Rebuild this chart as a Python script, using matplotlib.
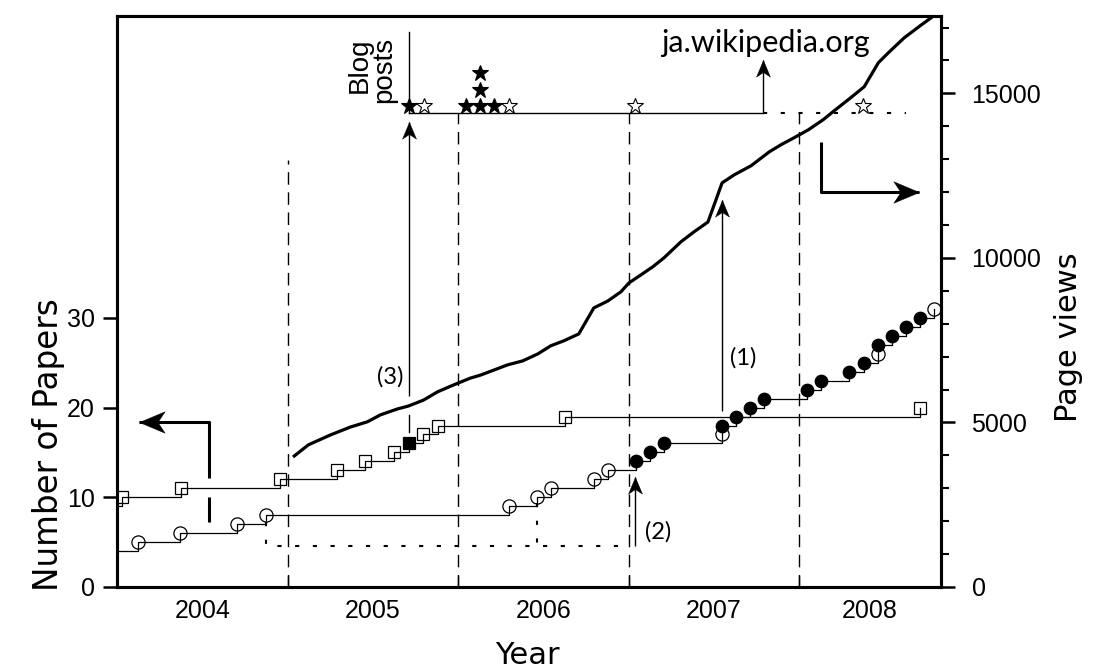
import numpy as np
import matplotlib.pyplot as plt

# x values are decimal years (2004.0 = 1 Jan 2004)
x_lo, x_hi = 2004.0, 2008.83
year_bounds = [2005, 2006, 2007, 2008]
year_labels = ['2004', '2005', '2006', '2007', '2008']

# papers shown as squares (step curve, upper)
sq_x = [2004.03, 2004.376, 2004.957, 2005.292, 2005.456, 2005.621, 2005.709,
        2005.791, 2005.879, 2006.625, 2008.709]
sq_n = [10, 11, 12, 13, 14, 15, 16, 17, 18, 19, 20]
sq_filled = [0, 0, 0, 0, 0, 0, 1, 0, 0, 0, 0]

# papers shown as circles (step curve, lower)
ci_x = [2004.123, 2004.370, 2004.705, 2004.875, 2006.296, 2006.460, 2006.543,
        2006.795, 2006.877, 2007.042, 2007.124, 2007.206, 2007.544, 2007.544,
        2007.629, 2007.711, 2007.793, 2008.046, 2008.128, 2008.292, 2008.380,
        2008.463, 2008.463, 2008.545, 2008.627, 2008.709, 2008.792]
ci_n = list(range(5, 32))
ci_filled = [0, 0, 0, 0, 0, 0, 0, 0, 0, 1, 1, 1, 0, 1, 1, 1, 1, 1, 1, 1, 1,
             0, 1, 1, 1, 1, 0]

# page views (right axis)
pv_x = [2005.039, 2005.122, 2005.251, 2005.368, 2005.468, 2005.544, 2005.644,
        2005.709, 2005.797, 2005.879, 2005.973, 2006.073, 2006.132, 2006.290,
        2006.378, 2006.466, 2006.543, 2006.619, 2006.707, 2006.795, 2006.877,
        2006.954, 2007.001, 2007.053, 2007.141, 2007.206, 2007.306, 2007.382,
        2007.464, 2007.547, 2007.617, 2007.717, 2007.823, 2007.893, 2007.969,
        2008.052, 2008.140, 2008.204, 2008.292, 2008.380, 2008.463, 2008.521,
        2008.615, 2008.715, 2008.80]
pv = [3980, 4320, 4620, 4860, 5020, 5230, 5410, 5500, 5680, 5930, 6140, 6350,
      6440, 6750, 6870, 7080, 7330, 7480, 7690, 8480, 8690, 8970, 9240, 9420,
      9730, 10000, 10490, 10790, 11090, 12280, 12520, 12800, 13220, 13440,
      13650, 13890, 14200, 14470, 14830, 15200, 15930, 16230, 16690, 17080,
      17400]

# blog posts (stars)
blog_x = [2005.709, 2005.797, 2006.043, 2006.126, 2006.208, 2006.296,
          2007.036, 2008.375]
blog_count = [1, 1, 1, 3, 1, 1, 1, 1]
blog_filled = [1, 0, 1, 1, 1, 0, 0, 0]

LEFT_TOP = 63.65
RIGHT_TOP = 17350
blog_y = 52.85
DOTS = (0, (2.0, 6.5))
NOTE_FONT = dict(family='Lato', fontsize=17)


def head_verts(direction):
    # stealth arrow head, tip at the origin, pointing +x
    v = np.array([(0, 0), (-1, -0.42), (-0.72, 0), (-1, 0.42), (0, 0)])
    if direction == 'left':
        v[:, 0] = -v[:, 0]
    elif direction == 'up':
        v = v[:, ::-1]
    return [tuple(p) for p in v]


def arrow(ax, xs, ys, direction, lw=1.0, ms=24):
    ax.plot(xs, ys, color='k', lw=lw, solid_capstyle='butt')
    ax.plot([xs[-1]], [ys[-1]], marker=head_verts(direction), ms=ms,
            color='k', mec='k', mew=0.3, ls='none')


fig = plt.figure(figsize=(10.96, 6.68), dpi=100)
ax = fig.add_axes([0.10675, 0.12126, 0.7518, 0.8548])
ax2 = ax.twinx()

# year separators
dash_top = [47.6, blog_y, blog_y, blog_y]
for xb, top in zip(year_bounds, dash_top):
    ax.plot([xb, xb], [0, top], color='k', lw=1.0, ls=(0, (9, 5.5)))

# step curves
ax.plot([x_lo - 0.05] + sq_x, [9] + sq_n, drawstyle='steps-post', color='k', lw=0.9)
ax.plot([x_lo - 0.05] + ci_x, [4] + ci_n, drawstyle='steps-post', color='k', lw=0.9)

for x, n, f in zip(sq_x, sq_n, sq_filled):
    ax.plot(x, n, marker='s', ms=9 if f else 8, mec='k', mew=0.9,
            mfc='k' if f else 'none', zorder=4)
for x, n, f in zip(ci_x, ci_n, ci_filled):
    ax.plot(x, n, marker='o', ms=9.5 if not f else 9, mec='k', mew=0.9,
            mfc='k' if f else 'none', zorder=4)

# dotted bracket for (2)
ax.plot([2004.875, 2004.875, 2006.995], [7.25, 4.57, 4.57], color='k', lw=1.5,
        ls=DOTS)
ax.plot([2006.460, 2006.460], [9.35, 4.57], color='k', lw=1.5, ls=DOTS)

# blog post track
ax.plot([2005.709, 2007.787], [blog_y, blog_y], color='k', lw=1.0)
ax.plot([2007.787, 2008.627], [blog_y, blog_y], color='k', lw=1.5, ls=DOTS)
ax.plot([2005.709, 2005.709], [blog_y, 61.9], color='k', lw=1.0)
for x, c, f in zip(blog_x, blog_count, blog_filled):
    for k in range(c):
        ax.plot(x, 53.6 + 1.85 * k, marker='*', ms=12, mec='k', mew=0.8,
                mfc='k' if f else 'white', zorder=5)
ax.text(2005.644, 61.3, 'Blog\nposts', rotation=90, ha='right', va='top',
        multialignment='right', fontsize=20, family='Liberation Sans',
        linespacing=0.95)

# ja.wikipedia.org arrow
arrow(ax, [2007.787, 2007.787], [blog_y, 58.75], 'up')
ax.text(2007.80, 60.65, 'ja.wikipedia.org', ha='center', va='center',
        family='Lato', fontsize=22)

# arrow (3)
ax.plot([2005.709, 2005.709], [17.3, 19.2], color='k', lw=1.0)
arrow(ax, [2005.709, 2005.709], [21.3, 51.84], 'up')
ax.text(2005.603, 23.4, '(3)', ha='center', va='center', **NOTE_FONT)

# arrow (1)
arrow(ax, [2007.544, 2007.544], [19.6, 43.1], 'up')
ax.text(2007.67, 25.6, '(1)', ha='center', va='center', **NOTE_FONT)

# arrow (2)
arrow(ax, [2007.036, 2007.036], [4.57, 12.26], 'up')
ax.text(2007.171, 6.13, '(2)', ha='center', va='center', **NOTE_FONT)

# axis hint arrows
ax.plot([2004.54, 2004.54], [7.25, 10.03], color='k', lw=2.2, solid_capstyle='butt')
arrow(ax, [2004.54, 2004.54, 2004.129], [12.15, 18.4, 18.4], 'left', lw=2.2, ms=37)
arrow(ax, [2008.125, 2008.125, 2008.703], [49.6, 44.04, 44.04], 'right', lw=2.2, ms=37)

# page views
ax2.plot(pv_x, pv, color='k', lw=2.3, solid_joinstyle='round')

# axes setup
ax.set_xlim(x_lo, x_hi)
ax.set_ylim(0, LEFT_TOP)
ax2.set_ylim(0, RIGHT_TOP)

ax.set_xticks(year_bounds)
ax.set_xticklabels([])
centers = []
edges = [x_lo] + year_bounds + [x_hi]
for a, b in zip(edges[:-1], edges[1:]):
    centers.append((a + b) / 2)
ax.set_xticks(centers, minor=True)
ax.set_xticklabels(year_labels, minor=True, fontsize=18, family='Liberation Sans')
ax.tick_params(axis='x', which='major', direction='in', length=8, width=1)
ax.tick_params(axis='x', which='minor', length=0, pad=9)

ax.set_yticks([0, 10, 20, 30])
ax.set_yticklabels(['0', '10', '20', '30'], fontsize=18, family='Liberation Sans')
ax.tick_params(axis='y', direction='out', length=10, width=1.8, pad=6)

ax2.set_yticks([0, 5000, 10000, 15000])
ax2.set_yticklabels(['0', '5000', '10000', '15000'], fontsize=18,
                    family='Liberation Sans')
ax2.set_yticks(np.arange(0, 17001, 1000), minor=True)
ax2.tick_params(axis='y', which='major', direction='out', length=10, width=1.8, pad=12)
ax2.tick_params(axis='y', which='minor', direction='out', length=6, width=1.5)

for a in (ax, ax2):
    for s in a.spines.values():
        s.set_linewidth(2.2)

fig.text(0.044, 0.3338, 'Number of Papers', rotation=90, ha='center',
         va='center', fontsize=23.5, family='DejaVu Sans')
fig.text(0.9745, 0.4955, 'Page views', rotation=90, ha='center', va='center',
         fontsize=22, family='DejaVu Sans')
fig.text(0.4808, 0.006, 'Year', ha='center', va='baseline', fontsize=22,
         family='DejaVu Sans')

fig.savefig('out.png', dpi=100)
